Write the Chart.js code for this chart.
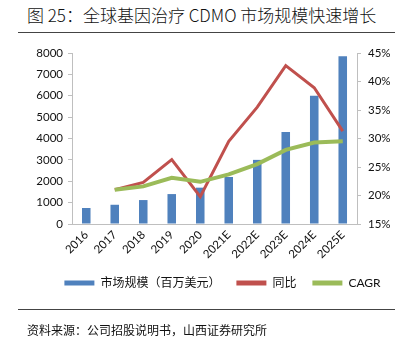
<!DOCTYPE html>
<html>
<head>
<meta charset="utf-8">
<script src="https://cdn.jsdelivr.net/npm/chart.js@4"></script>
<style>
  body { margin: 0; background: #fff; font-family: 'Noto Sans CJK SC', sans-serif; }
  #wrap { position: relative; width: 413px; height: 346px; }
  #chart { position: absolute; left: 0; top: 0; }
  .title { position: absolute; left: 27px; top: 2px; font-size: 17px; font-weight: 300; color: #111; white-space: nowrap; }
  .rule { position: absolute; left: 18px; width: 377px; height: 1px; background: #444; }
  .source { position: absolute; left: 27px; top: 321px; font-size: 12px; color: #111; white-space: nowrap; }
</style>
</head>
<body>
<div id="wrap">
  <div class="title">图 25：全球基因治疗 CDMO 市场规模快速增长</div>
  <div class="rule" style="top:32px"></div>
  <canvas id="chart" width="413" height="346"></canvas>
  <div class="rule" style="top:309px"></div>
  <div class="source">资料来源：公司招股说明书，山西证券研究所</div>
</div>
<script>
// data
const years = ['2016', '2017', '2018', '2019', '2020', '2021E', '2022E', '2023E', '2024E', '2025E'];
const marketSize = [750, 900, 1120, 1400, 1700, 2200, 3000, 4300, 6000, 7850];
const yoy = [null, 21.0, 22.3, 26.3, 19.8, 29.5, 35.5, 42.8, 38.9, 31.3];
const cagr = [null, 21.0, 21.6, 23.1, 22.4, 23.7, 25.5, 28.0, 29.3, 29.5];

const tickFont = { family: 'Lato, "Noto Sans CJK SC"', size: 11.5 };
const axisColor = '#bfbfbf';

const ctx = document.getElementById('chart').getContext('2d');
const chart = new Chart(ctx, {
  type: 'bar',
  data: {
    labels: years,
    datasets: [
      {
        label: '市场规模（百万美元）',
        data: marketSize,
        backgroundColor: '#4f81bd',
        yAxisID: 'y',
        order: 3,
        barPercentage: 0.6,
        categoryPercentage: 0.5,
      },
      {
        type: 'line',
        label: '同比',
        data: yoy,
        borderColor: '#c0504d',
        backgroundColor: '#c0504d',
        borderWidth: 3,
        pointRadius: 0,
        tension: 0,
        yAxisID: 'y1',
        order: 2,
      },
      {
        type: 'line',
        label: 'CAGR',
        data: cagr,
        borderColor: '#9bbb59',
        backgroundColor: '#9bbb59',
        borderWidth: 4,
        pointRadius: 0,
        tension: 0,
        yAxisID: 'y1',
        order: 1,
      },
    ],
  },
  options: {
    responsive: false,
    animation: false,
    devicePixelRatio: 1,
    layout: { padding: { top: 53, left: 32, right: 0, bottom: 47 } },
    plugins: {
      tooltip: { enabled: false },
      legend: {
        position: 'bottom',
        labels: {
          boxWidth: 30,
          boxHeight: 5,
          padding: 16,
          color: '#111',
          font: { family: 'Lato, "Noto Sans CJK SC"', size: 12 },
          sort: (a, b) => a.datasetIndex - b.datasetIndex,
          generateLabels: (c) => Chart.defaults.plugins.legend.labels.generateLabels(c).map(item => {
            const ds = c.data.datasets[item.datasetIndex];
            item.fillStyle = ds.type === 'line' ? ds.borderColor : ds.backgroundColor;
            item.lineWidth = 0;
            return item;
          }),
        },
      },
    },
    scales: {
      x: {
        offset: true,
        grid: { display: false, drawTicks: false },
        border: { display: true, color: axisColor },
        ticks: { font: tickFont, color: '#111', minRotation: 45, maxRotation: 45, padding: 4 },
        afterFit: (s) => { s.height = 37; },
      },
      y: {
        position: 'left',
        min: 0,
        max: 8000,
        grid: { drawOnChartArea: false, drawTicks: true, tickLength: 4, color: axisColor },
        border: { display: true, color: axisColor },
        ticks: { stepSize: 1000, font: tickFont, color: '#111', padding: 5, callback: v => String(v) },
        afterFit: (s) => { s.width = 40; },
      },
      y1: {
        position: 'right',
        min: 15,
        max: 45,
        grid: { drawOnChartArea: false, drawTicks: true, tickLength: 4, color: axisColor },
        border: { display: true, color: axisColor },
        ticks: { stepSize: 5, font: tickFont, color: '#111', padding: 7, callback: v => v + '%' },
        afterFit: (s) => { s.width = 56; },
      },
    },
  },
});
</script>
</body>
</html>
